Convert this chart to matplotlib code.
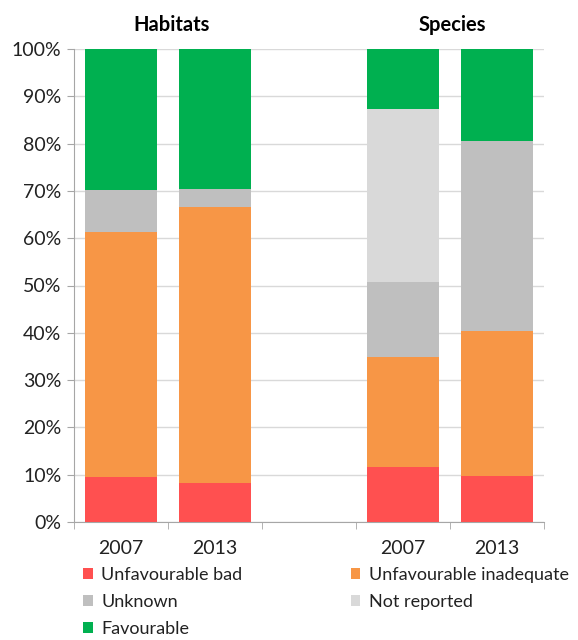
import matplotlib
matplotlib.use("Agg")
import matplotlib.pyplot as plt
from matplotlib.patches import Patch
import numpy as np

plt.rcParams['font.family'] = ['Lato', 'DejaVu Sans']

categories = ["2007", "2013", "", "2007", "2013"]
groups = ["Habitats", "Species"]
series_names = ["Unfavourable bad", "Unfavourable inadequate", "Unknown", "Not reported", "Favourable"]
unfav_bad = [9.5, 8.3, 0, 11.6, 9.8]
unfav_inadequate = [51.8, 58.3, 0, 23.2, 30.5]
unknown = [8.9, 3.9, 0, 16.0, 40.3]
not_reported = [0.0, 0.0, 0, 36.5, 0.0]
favourable = [29.8, 29.5, 0, 12.7, 19.4]
colors = ["#FF5050", "#F79646", "#BFBFBF", "#D9D9D9", "#00B050"]

series = [unfav_bad, unfav_inadequate, unknown, not_reported, favourable]

fig = plt.figure(figsize=(5.78, 6.4), dpi=100)
ax = fig.add_axes([74/578, 1-522/640, (544-74)/578, (522-49)/640])

x = np.arange(len(categories))
bottom = np.zeros(len(categories))
for vals, c, name in zip(series, colors, series_names):
    v = np.array(vals, dtype=float)
    ax.bar(x, v, bottom=bottom, width=0.76, color=c, label=name, zorder=3)
    bottom += v

FS = 14
ax.set_xlim(-0.5, len(categories) - 0.5)
ax.set_ylim(0, 100)
ax.set_yticks(np.arange(0, 101, 10))
ax.set_yticklabels([f"{v}%" for v in range(0, 101, 10)], fontsize=FS, color="#222222")
ax.yaxis.grid(True, color="#D9D9D9", linewidth=1, zorder=0)
ax.set_axisbelow(True)

ax.set_xticks(x)
ax.set_xticklabels(categories, fontsize=FS, color="#222222")
ax.set_xticks(np.arange(-0.5, len(categories), 1), minor=True)
ax.tick_params(axis='x', which='major', length=0, pad=13)
ax.tick_params(axis='x', which='minor', length=5, color="#A6A6A6", direction='out')
ax.tick_params(axis='y', length=5, color="#A6A6A6", direction='out', pad=4)

for s in ['top', 'right']:
    ax.spines[s].set_visible(False)
for s in ['left', 'bottom']:
    ax.spines[s].set_color("#A6A6A6")

fig.text(172/578, 1-25/640, groups[0], ha='center', va='center', fontsize=14.5, fontweight='bold')
fig.text(452/578, 1-25/640, groups[1], ha='center', va='center', fontsize=14.5, fontweight='bold')

handles = [Patch(facecolor=c, edgecolor='none') for c in colors]
order = [0, 2, 4, 1, 3]
leg = fig.legend([handles[i] for i in order], [series_names[i] for i in order],
                 ncol=2, loc='upper left', bbox_to_anchor=(83/578, 1-567/640),
                 frameon=False, fontsize=13, handlelength=0.55, handleheight=0.55,
                 handletextpad=0.45, columnspacing=6.0, labelspacing=0.6,
                 borderaxespad=0, borderpad=0)
for t in leg.get_texts():
    t.set_color("#222222")

fig.savefig("out.png", dpi=100)
